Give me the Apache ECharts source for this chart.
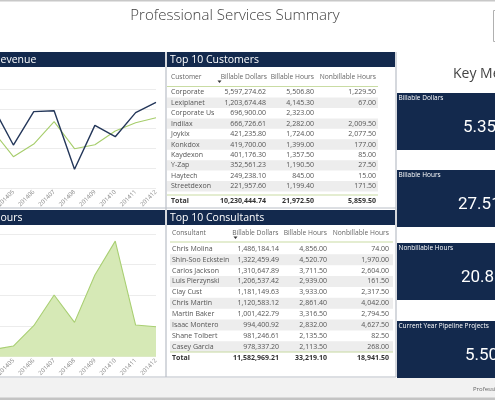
<!DOCTYPE html>
<html><head><meta charset="utf-8">
<script src="https://cdn.jsdelivr.net/npm/echarts@6/dist/echarts.min.js"></script>
<style>html,body{margin:0;padding:0;background:#fff}#c{width:495px;height:400px}</style>
</head><body><div id="c"></div>
<script>
// ---- data ----
const months = ['201404','201405','201406','201407','201408','201409','201410','201411','201412'];
const revenueActual = [820000, 434000, 771000, 781000, 189000, 633000, 518000, 761000, 866000];
const revenueTarget = [576000, 316000, 444000, 670000, 397000, 437000, 576000, 660000, 710000];
const hoursByMonth = [117, 174, 505, 1005, 560, 1331, 1884, 516, 489];

const tableColumns = ['Billable Dollars', 'Billable Hours', 'Nonbillable Hours'];
const customers = ['Corporate','Lexiplanet','Corporate Us','Indilax','Joykix','Konkdox','Kaydexon','Y-Zap','Haytech','Streetdexon'];
const custDollars = [5597274.62, 1203674.48, 696900.00, 666726.61, 421235.80, 419700.00, 401176.30, 352561.23, 249238.10, 221957.60];
const custHours = [5506.80, 4145.30, 2323.00, 2282.00, 1724.00, 1399.00, 1357.50, 1190.50, 845.00, 1199.40];
const custNonbill = [1229.50, 67.00, null, 2009.50, 2077.50, 177.00, 85.00, 27.50, 15.00, 171.50];
const custTotals = [10230444.74, 21972.50, 5859.50];

const consultants = ['Chris Molina','Shin-Soo Eckstein','Carlos Jackson','Luis Pierzynski','Clay Cust','Chris Martin','Martin Baker','Isaac Montero','Shane Tolbert','Casey Garcia'];
const consDollars = [1486184.14, 1322459.49, 1310647.89, 1206537.42, 1181149.63, 1120583.12, 1001422.79, 994400.92, 981246.61, 978337.20];
const consHours = [4856.00, 4520.70, 3711.50, 2939.00, 3933.00, 2861.40, 3316.50, 2832.00, 2135.50, 2113.50];
const consNonbill = [74.00, 1970.00, 2604.00, 161.50, 2317.50, 4042.00, 2794.50, 4627.50, 82.50, 268.00];
const consTotals = [11582969.21, 33219.10, 18941.50];

const kpiLabels = ['Billable Dollars', 'Billable Hours', 'Nonbillable Hours', 'Current Year Pipeline Projects'];
const kpiValues = ['5.35M', '27.51K', '20.83K', '5.50M'];

// ---- styling ----
const NAVY = '#13294d';
const FONT = '"Open Sans", "Noto Sans", sans-serif';
const fmt = v => v == null ? '' : v.toLocaleString('en-US', {minimumFractionDigits: 2, maximumFractionDigits: 2});

const g = [];
function rect(x, y, w, h, fill, extra) { g.push(Object.assign({type: 'rect', shape: {x, y, width: w, height: h}, style: {fill}, silent: true}, extra || {})); }
function line(x1, y1, x2, y2, stroke, lw) { g.push({type: 'line', shape: {x1, y1, x2, y2}, style: {stroke, lineWidth: lw || 1}, silent: true}); }
function text(t, x, y, o) {
  o = o || {};
  g.push({type: 'text', silent: true, z: 10, style: {text: t, x, y, fill: o.fill || '#555', fontSize: o.size || 7,
    fontFamily: o.family || FONT, fontWeight: o.weight || 'normal', align: o.align || 'left', verticalAlign: 'middle'}});
}

// frame and title
rect(0, 0, 495, 1.5, '#c8c8c8');
text('Professional Services Summary', 235, 16, {size: 15, fill: '#3c3c3c', align: 'center', weight: 300});
g.push({type: 'rect', shape: {x: 493.5, y: 10.5, width: 10, height: 31}, style: {fill: '#fff', stroke: '#b0b0b0'}, silent: true});

// panel headers
rect(0, 52, 165, 15, NAVY);
text('evenue', 0.5, 60, {size: 10.5, fill: '#fff'});
rect(0, 210, 165, 15, NAVY);
text('ours', 0.5, 218, {size: 10.5, fill: '#fff'});
rect(167, 52, 228, 15, NAVY);
text('Top 10 Customers', 170, 60, {size: 10.5, fill: '#fff'});
rect(167, 210, 228, 15, NAVY);
text('Top 10 Consultants', 170, 218, {size: 10.5, fill: '#fff'});

// panel borders
line(166, 52, 166, 377, '#b9bec6', 1.2);
line(396, 52, 396, 377, '#b9bec6', 1.2);
line(0, 208, 396, 208, '#b9bec6', 1);
line(0, 377, 396, 377, '#b9bec6', 1);

// footer
rect(0, 378, 495, 20, '#f2f2f2');
rect(0, 397.5, 495, 2.5, '#c4c4c4');
text('Professional Services Summary', 473, 389, {size: 6, fill: '#666'});

// tables
function table(cfg) {
  const {names, cols, totals, firstCol, hy, lineY, y0, pitch, totLineY, totY, nameX, rights, heads, x1, x2, arrowX} = cfg;
  text(firstCol, nameX, hy, {fill: '#666', size: 6.7});
  tableColumns.forEach((h, i) => text(h, heads[i], hy, {fill: '#666', align: 'right', size: 6.7}));
  g.push({type: 'polygon', shape: {points: [[arrowX - 2, hy + 3.5], [arrowX + 2, hy + 3.5], [arrowX, hy + 6]]}, style: {fill: '#333'}, silent: true});
  line(x1, lineY, x2, lineY, '#c9dca3', 1.2);
  names.forEach((n, r) => {
    const y = y0 + r * pitch;
    if (r % 2 === 1) rect(x1, y - pitch / 2, x2 - x1, pitch, '#ededed');
    text(n, nameX, y);
    cols.forEach((c, i) => text(fmt(c[r]), rights[i], y, {align: 'right'}));
  });
  line(x1, totLineY, x2, totLineY, '#c9dca3', 1.2);
  text('Total', nameX, totY, {weight: 'bold', fill: '#333'});
  totals.forEach((t, i) => text(fmt(t), rights[i], totY, {weight: 'bold', fill: '#333', align: 'right'}));
}
table({names: customers, cols: [custDollars, custHours, custNonbill], totals: custTotals, firstCol: 'Customer',
  hy: 77, lineY: 86.5, y0: 92.3, pitch: 10.44, totLineY: 195, totY: 200.7, nameX: 171,
  rights: [266, 314, 376], heads: [267, 314, 376], x1: 167, x2: 378, arrowX: 219.5});
table({names: consultants, cols: [consDollars, consHours, consNonbill], totals: consTotals, firstCol: 'Consultant',
  hy: 233, lineY: 242, y0: 248.8, pitch: 10.89, totLineY: 352, totY: 358, nameX: 172,
  rights: [279, 327, 389], heads: [278.5, 327, 389], x1: 170, x2: 393, arrowX: 235.5});

// KPI cards
text('Key Metrics', 453, 74, {size: 14, fill: '#444'});
const cardTops = [93, 170, 243, 321];
kpiLabels.forEach((l, i) => {
  const t = cardTops[i];
  rect(397, t, 100, 57, NAVY);
  text(l, 398.5, t + 5.5, {size: 6.5, fill: '#fff'});
  text(kpiValues[i], [463, 458, 461, 465][i], t + 35, {size: 17, fill: '#fff', family: 'Roboto, sans-serif'});
});

const axisLabel = {rotate: 45, fontSize: 6, color: '#8a8a8a', margin: 3, fontFamily: FONT, interval: 0};
const option = {
  animation: false,
  backgroundColor: '#fff',
  grid: [
    {left: -7, right: 339, top: 89, bottom: 212, outerBoundsMode: 'none', containLabel: false},
    {left: -7, right: 339, top: 234, bottom: 43.3, outerBoundsMode: 'none', containLabel: false}
  ],
  xAxis: [
    {type: 'category', gridIndex: 0, data: months, boundaryGap: false, axisLine: {show: false}, axisTick: {show: false}, axisLabel},
    {type: 'category', gridIndex: 1, data: months, boundaryGap: false, axisLine: {show: false}, axisTick: {show: false}, axisLabel}
  ],
  yAxis: [
    {type: 'value', gridIndex: 0, min: 0, max: 1000000, interval: 200000, axisLabel: {show: false}, splitLine: {lineStyle: {color: '#ececec'}}},
    {type: 'value', gridIndex: 1, min: 0, max: 2000, interval: 500, axisLabel: {show: false}, splitLine: {lineStyle: {color: '#ececec'}}}
  ],
  series: [
    {type: 'line', name: 'Target', xAxisIndex: 0, yAxisIndex: 0, data: revenueTarget, symbol: 'none', lineStyle: {color: '#a6cd6b', width: 1.1}, z: 2},
    {type: 'line', name: 'Revenue', xAxisIndex: 0, yAxisIndex: 0, data: revenueActual, symbol: 'none', lineStyle: {color: '#24375a', width: 1.4}, z: 3},
    {type: 'line', name: 'Hours', xAxisIndex: 1, yAxisIndex: 1, data: hoursByMonth, symbol: 'none', lineStyle: {color: '#a9cf73', width: 1.1}, areaStyle: {color: '#d6e9b6', opacity: 1}}
  ],
  graphic: g
};
const chart = echarts.init(document.getElementById('c'), null, {renderer: 'canvas'});
chart.setOption(option);
</script></body></html>
